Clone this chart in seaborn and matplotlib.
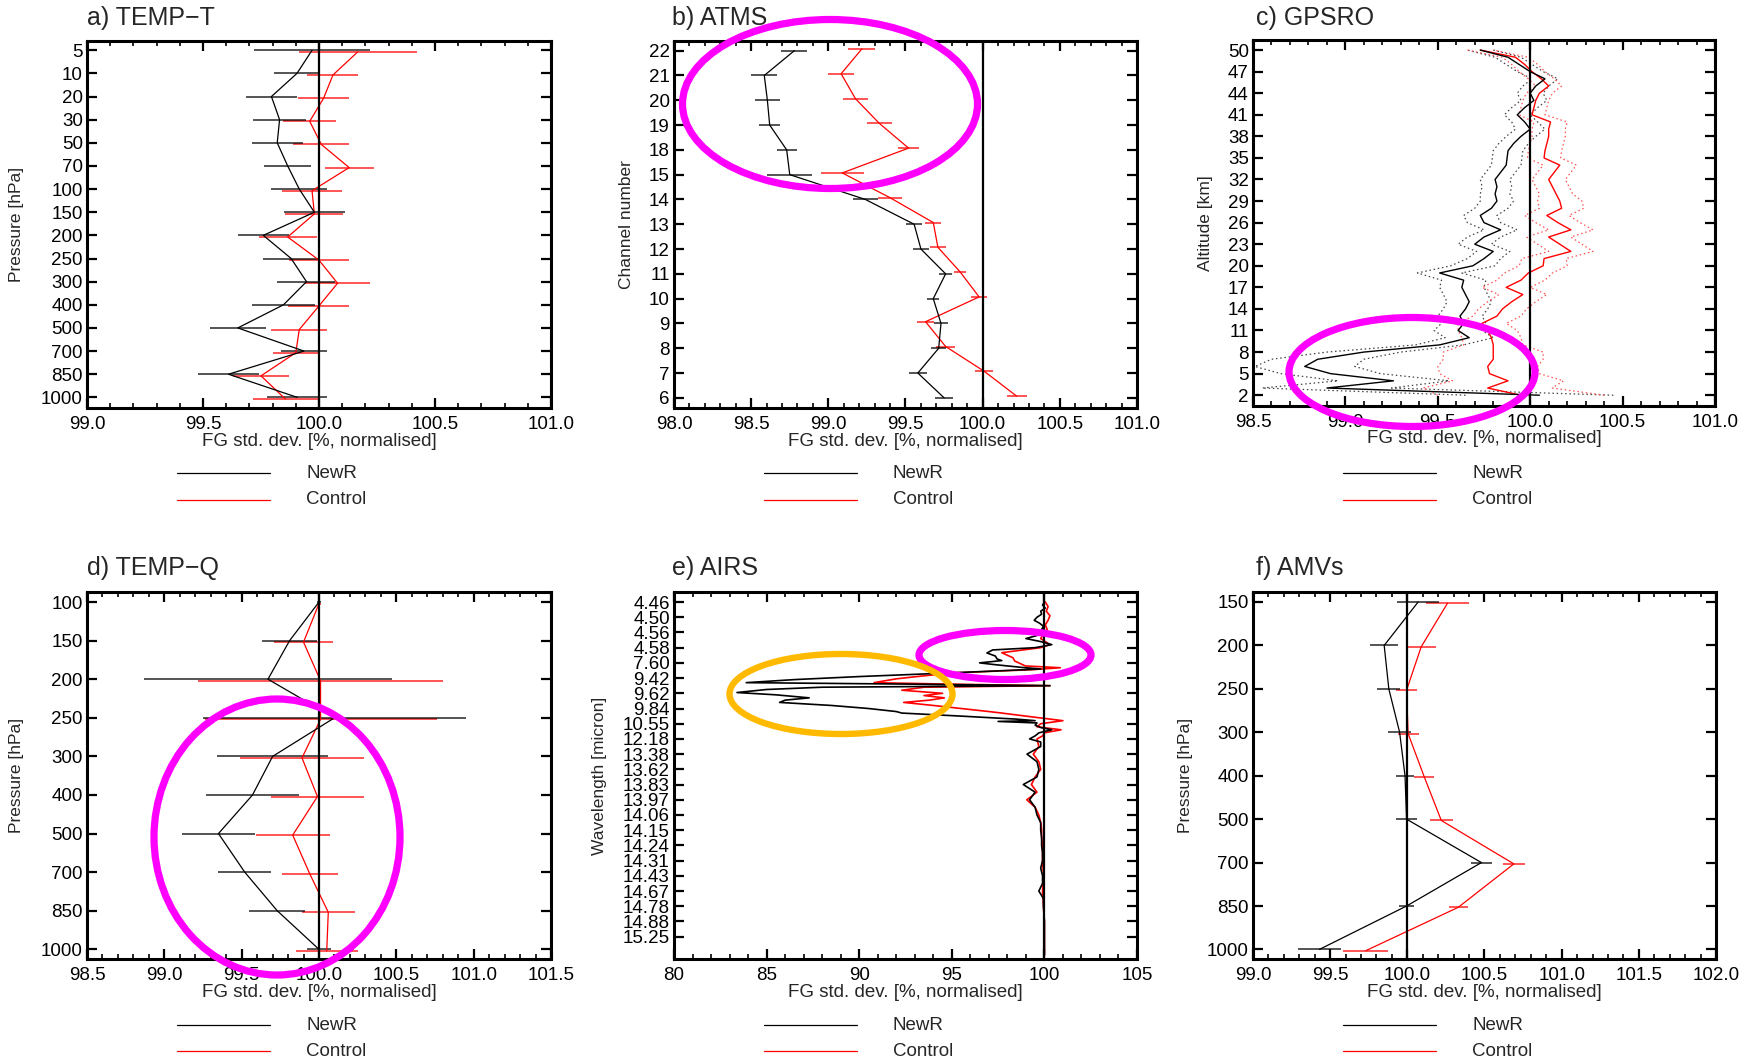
import numpy as np
import pandas as pd
import matplotlib
matplotlib.use("Agg")
import matplotlib.pyplot as plt
import seaborn as sns
from matplotlib.ticker import MultipleLocator, NullLocator, FormatStrFormatter
from matplotlib.patches import Ellipse
from matplotlib.lines import Line2D

# ---------------- data ----------------
# a) TEMP-T
a_levels = ["5", "10", "20", "30", "50", "70", "100", "150", "200", "250", "300", "400", "500", "700", "850", "1000"]
a_newr = [99.97, 99.905, 99.795, 99.83, 99.82, 99.865, 99.915, 99.98, 99.76, 99.88, 99.946, 99.847, 99.65, 99.935, 99.61, 99.906]
a_newr_err = [0.25, 0.10, 0.11, 0.115, 0.11, 0.10, 0.12, 0.13, 0.11, 0.12, 0.125, 0.135, 0.12, 0.10, 0.13, 0.13]
a_ctrl = [100.167, 100.06, 100.02, 99.96, 100.01, 100.13, 99.97, 99.98, 99.865, 100.0, 100.08, 99.998, 99.915, 99.90, 99.75, 99.855]
a_ctrl_err = [0.255, 0.11, 0.11, 0.115, 0.12, 0.105, 0.13, 0.125, 0.125, 0.13, 0.14, 0.13, 0.12, 0.10, 0.12, 0.14]

# b) ATMS
b_channels = ["22", "21", "20", "19", "18", "15", "14", "13", "12", "11", "10", "9", "8", "7", "6"]
b_newr = [98.78, 98.585, 98.605, 98.62, 98.73, 98.75, 99.24, 99.556, 99.60, 99.76, 99.68, 99.73, 99.715, 99.58, 99.75]
b_newr_err = [0.085, 0.083, 0.08, 0.07, 0.065, 0.147, 0.08, 0.05, 0.05, 0.04, 0.04, 0.045, 0.05, 0.06, 0.06]
b_ctrl = [99.217, 99.083, 99.175, 99.33, 99.52, 99.09, 99.40, 99.68, 99.71, 99.855, 99.977, 99.63, 99.76, 100.01, 100.22]
b_ctrl_err = [0.088, 0.085, 0.08, 0.08, 0.07, 0.14, 0.08, 0.052, 0.05, 0.04, 0.053, 0.054, 0.06, 0.06, 0.065]

# c) GPSRO (altitude 2..50 km)
c_alt = [2, 3, 4, 5, 6, 7, 8, 9, 10, 11, 12, 13, 14, 15, 16, 17, 18, 19, 20, 21, 22, 23, 24, 25, 26,
         27, 28, 29, 30, 31, 32, 33, 34, 35, 36, 37, 38, 39, 40, 41, 42, 43, 44, 45, 46, 47, 48, 49, 50]
c_newr = [100.05, 98.90, 99.26, 98.92, 98.78, 98.85, 99.10, 99.51, 99.67, 99.61, 99.64, 99.62, 99.65, 99.67,
          99.65, 99.63, 99.64, 99.51, 99.69, 99.75, 99.80, 99.70, 99.75, 99.84, 99.75, 99.73, 99.79, 99.82,
          99.81, 99.82, 99.81, 99.84, 99.87, 99.875, 99.88, 99.91, 99.95, 100.0, 99.97, 99.93, 99.97, 100.02,
          100.0, 100.03, 100.08, 100.0, 99.94, 99.88, 99.73]
c_newr_err = [0.40, 0.35, 0.30, 0.27, 0.27, 0.25, 0.20, 0.13, 0.13, 0.13, 0.12, 0.12, 0.12, 0.12, 0.12, 0.12,
              0.12, 0.12, 0.12, 0.09, 0.09, 0.09, 0.09, 0.09, 0.09, 0.09, 0.09, 0.09, 0.08, 0.08, 0.08, 0.08,
              0.08, 0.08, 0.08, 0.08, 0.08, 0.08, 0.07, 0.07, 0.07, 0.07, 0.07, 0.07, 0.07, 0.07, 0.07, 0.07, 0.07]
c_ctrl = [99.95, 99.77, 99.88, 99.78, 99.77, 99.80, 99.80, 99.80, 99.79, 99.77, 99.74, 99.82, 99.85, 99.90,
          99.96, 99.87, 99.95, 99.99, 100.07, 100.075, 100.22, 100.16, 100.10, 100.22, 100.15, 100.09, 100.17,
          100.16, 100.14, 100.12, 100.10, 100.13, 100.16, 100.075, 100.08, 100.09, 100.10, 100.10, 100.11,
          100.01, 100.02, 100.03, 100.05, 100.10, 100.06, 100.01, 99.97, 99.92, 99.73]
c_ctrl_err = [0.45, 0.35, 0.30, 0.27, 0.27, 0.27, 0.27, 0.16, 0.16, 0.16, 0.13, 0.13, 0.13, 0.13, 0.13, 0.13,
              0.13, 0.13, 0.13, 0.12, 0.12, 0.12, 0.12, 0.12, 0.12, 0.12, 0.12, 0.12, 0.09, 0.09, 0.09, 0.09,
              0.09, 0.09, 0.09, 0.09, 0.09, 0.09, 0.09, 0.07, 0.07, 0.07, 0.07, 0.07, 0.07, 0.07, 0.07, 0.07, 0.07]
c_ticks = [2, 5, 8, 11, 14, 17, 20, 23, 26, 29, 32, 35, 38, 41, 44, 47, 50]

# d) TEMP-Q
d_levels = ["100", "150", "200", "250", "300", "400", "500", "700", "850", "1000"]
d_newr = [100.0, 99.81, 99.67, 100.10, 99.70, 99.57, 99.35, 99.52, 99.73, 100.0]
d_newr_err = [0.01, 0.177, 0.80, 0.85, 0.36, 0.30, 0.235, 0.17, 0.18, 0.08]
d_ctrl = [100.0, 99.90, 100.01, 100.01, 99.89, 99.99, 99.83, 99.94, 100.06, 100.05]
d_ctrl_err = [0.01, 0.19, 0.79, 0.75, 0.40, 0.30, 0.24, 0.18, 0.17, 0.20]

# e) AIRS (positions in units of the labelled wavelength ticks)
e_labels = ["4.46", "4.50", "4.56", "4.58", "7.60", "9.42", "9.62", "9.84", "10.55", "12.18", "13.38", "13.62",
            "13.83", "13.97", "14.06", "14.15", "14.24", "14.31", "14.43", "14.67", "14.78", "14.88", "15.25"]
e_newr_pos = [0.0, 0.2, 0.4, 0.6, 0.8, 1.0, 1.2, 1.4, 1.6, 1.8, 2.0, 2.2, 2.4, 2.6, 2.8,
              3.0, 3.15, 3.35, 3.55, 3.75, 3.85, 4.0, 4.1, 4.3, 4.4, 4.5, 4.7, 4.9,
              5.1, 5.3, 5.4, 5.5, 5.6, 5.75, 5.95, 6.1, 6.3, 6.45, 6.6, 6.8,
              7.0, 7.2, 7.3, 7.5, 7.7, 7.8, 7.85, 7.95, 8.1, 8.25, 8.4, 8.6, 8.8, 9.0, 9.2, 9.5,
              10.0, 10.5, 11.0, 11.5, 12.0, 12.5, 13.0, 13.5, 14.0, 14.5, 15.0, 15.5, 16.0, 16.5,
              17.0, 17.5, 18.0, 18.5, 19.0, 19.5, 20.0, 21.0, 22.0, 23.2]
e_newr = [100.0, 99.9, 100.05, 99.8, 99.85, 99.6, 99.45, 99.75, 99.95, 99.85, 99.9, 99.6, 99.0, 99.8, 100.4,
          99.5, 97.2, 96.9, 97.35, 97.45, 97.7, 96.5, 97.2, 98.8, 99.8, 98.0, 94.1, 90.0,
          86.5, 83.9, 93.0, 100.3, 88.0, 85.0, 83.4, 85.5, 87.3, 86.0, 85.7, 88.5,
          90.5, 92.0, 92.3, 95.5, 98.5, 99.5, 97.5, 99.6, 99.5, 99.8, 100.4, 99.7, 99.5, 99.2, 99.8, 99.8,
          99.06, 99.6, 99.7, 99.6, 98.86, 99.5, 99.2, 99.5, 99.6, 99.8, 99.8, 99.85, 99.85, 99.9,
          99.9, 99.8, 99.9, 99.9, 99.7, 99.95, 99.95, 100.0, 100.0, 100.0]
e_ctrl_pos = [0.0, 0.3, 0.6, 0.9, 1.2, 1.5, 1.8, 2.0, 2.4, 2.8,
              3.0, 3.33, 3.5, 3.66, 3.88, 4.2, 4.32, 4.45, 4.65, 4.85,
              5.05, 5.3, 5.4, 5.5, 5.6, 5.8, 6.0, 6.15, 6.3, 6.45, 6.6, 6.8,
              7.0, 7.2, 7.3, 7.5, 7.8, 8.0, 8.2, 8.4, 8.6, 8.8, 9.0, 9.5,
              10.0, 10.5, 11.0, 11.5, 12.0, 12.5, 13.0, 13.5, 14.0, 14.5, 15.0, 15.5, 16.0,
              17.0, 18.0, 19.0, 20.0, 21.0, 22.0, 23.2]
e_ctrl = [100.05, 100.2, 100.1, 100.3, 100.2, 100.05, 100.15, 100.0, 99.8, 100.3,
          99.8, 97.7, 98.0, 98.3, 98.4, 98.97, 100.86, 99.3, 95.2, 93.5,
          92.0, 90.8, 95.0, 100.3, 93.5, 92.3, 94.5, 93.5, 94.6, 93.8, 92.4, 94.0,
          95.5, 97.0, 97.7, 99.0, 101.0, 99.8, 99.6, 100.9, 100.0, 99.9, 99.6, 99.7,
          99.4, 99.7, 99.8, 99.5, 99.3, 99.6, 99.05, 99.5, 99.7, 99.8, 99.85, 99.85, 99.9,
          99.9, 99.95, 99.9, 99.95, 100.0, 100.0, 100.0]

# f) AMVs
f_levels = ["150", "200", "250", "300", "400", "500", "700", "850", "1000"]
f_newr = [100.07, 99.85, 99.88, 99.95, 99.985, 99.995, 100.48, 99.995, 99.43]
f_newr_err = [0.135, 0.09, 0.075, 0.075, 0.06, 0.07, 0.07, 0.05, 0.14]
f_ctrl = [100.26, 100.09, 99.995, 100.005, 100.11, 100.22, 100.69, 100.33, 99.73]
f_ctrl_err = [0.137, 0.093, 0.07, 0.068, 0.064, 0.074, 0.071, 0.06, 0.145]

XLABEL = "FG std. dev. [%, normalised]"

# ---------------- figure ----------------
sns.set_style("ticks")
plt.rcParams['font.family'] = ['Liberation Sans', 'DejaVu Sans']
plt.rcParams['axes.unicode_minus'] = True

W, H = 1754, 1060
fig = plt.figure(figsize=(W / 100, H / 100), dpi=100)
PAL = {'NewR': 'black', 'Control': 'red'}


def rect(l, r, t, b):
    return [l / W, 1 - b / H, (r - l) / W, (b - t) / H]


def style(ax, xlim, major, minor, fmt, ylab, ylab_x):
    ax.set_xlim(*xlim)
    ax.xaxis.set_major_locator(MultipleLocator(major))
    ax.xaxis.set_minor_locator(MultipleLocator(minor))
    ax.xaxis.set_major_formatter(FormatStrFormatter(fmt))
    ax.yaxis.set_minor_locator(NullLocator())
    ax.tick_params(which='both', direction='in', top=True, right=True, labelsize=13.5, colors='black')
    ax.tick_params(which='major', length=7, width=1.6)
    ax.tick_params(which='minor', length=3.5, width=1.2)
    ax.tick_params(axis='y', pad=3)
    ax.tick_params(axis='x', pad=6)
    for s in ax.spines.values():
        s.set_linewidth(2.2)
        s.set_color('black')
    ax.axvline(100, color='black', lw=1.6, zorder=6)
    ax.set_xlabel(XLABEL, fontsize=13.5)
    ax.xaxis.set_label_coords(0.5, -0.09)
    ax.xaxis.label.set_va('center')
    ax.set_ylabel(ylab, fontsize=12.5)
    ax.yaxis.set_label_coords(ylab_x, 0.5)
    ax.yaxis.label.set_va('center')
    ax.yaxis.label.set_ha('center')
    ax.set_facecolor('white')


def profile(ax, y_n, v_n, y_c, v_c, lw=0.9):
    df = pd.DataFrame({'pos': list(y_c) + list(y_n),
                       'value': list(v_c) + list(v_n),
                       'run': ['Control'] * len(y_c) + ['NewR'] * len(y_n)})
    sns.lineplot(data=df, x='value', y='pos', hue='run', hue_order=['Control', 'NewR'], palette=PAL,
                 sort=False, orient='y', estimator=None, legend=False, lw=lw, ax=ax, zorder=4)


def bars(ax, y, v, e, col):
    ax.errorbar(v, y, xerr=e, fmt='none', ecolor=col, elinewidth=1.1, capsize=0, alpha=0.85, zorder=3)


def title(ax_left, base_y, text):
    fig.text(ax_left / W, 1 - base_y / H, text, fontsize=18, va='baseline', ha='left')


def legend(ax_left, y1, y2):
    for ypx, col, lab in [(y1, 'black', 'NewR'), (y2, 'red', 'Control')]:
        fig.add_artist(Line2D([(ax_left + 90) / W, (ax_left + 183) / W], [1 - ypx / H] * 2, color=col, lw=0.9))
        fig.text((ax_left + 219) / W, 1 - ypx / H, lab, fontsize=13.5, va='center', ha='left')


# a) TEMP-T
ax = fig.add_axes(rect(87, 551, 41, 408))
ya = np.arange(len(a_levels), dtype=float)
off = 0.07
bars(ax, ya + off, a_ctrl, a_ctrl_err, 'red')
bars(ax, ya, a_newr, a_newr_err, 'black')
profile(ax, ya, a_newr, ya + off, a_ctrl)
ax.set_yticks(ya)
ax.set_yticklabels(a_levels)
ax.set_ylim(15.46, -0.40)
style(ax, (99.0, 101.0), 0.5, 0.1, '%.1f', 'Pressure [hPa]', -0.151)
title(87, 25, "a) TEMP\u2212T")
legend(87, 473, 500)

# b) ATMS
ax = fig.add_axes(rect(674, 1137, 41, 408))
yb = np.arange(len(b_channels), dtype=float)
off = -0.07
bars(ax, yb + off, b_ctrl, b_ctrl_err, 'red')
bars(ax, yb, b_newr, b_newr_err, 'black')
profile(ax, yb, b_newr, yb + off, b_ctrl)
ax.set_yticks(yb)
ax.set_yticklabels(b_channels)
ax.set_ylim(14.41, -0.39)
style(ax, (98.0, 101.0), 0.5, 0.1, '%.1f', 'Channel number', -0.103)
title(672, 25, "b) ATMS")
legend(674, 473, 500)

# c) GPSRO
ax = fig.add_axes(rect(1253, 1715, 40, 406))
alt = np.array(c_alt, dtype=float)
for vals, errs, col in [(c_newr, c_newr_err, '#444444'), (c_ctrl, c_ctrl_err, '#ff5050')]:
    v = np.array(vals)
    e = np.array(errs)
    for sign in (-1, 1):
        sns.lineplot(x=v + sign * e, y=alt, sort=False, orient='y', estimator=None, color=col,
                     lw=0.9, linestyle=(0, (1.2, 2.2)), ax=ax, zorder=3)
profile(ax, alt, c_newr, alt, c_ctrl, lw=1.0)
ax.set_yticks(c_ticks)
ax.set_yticklabels([str(t) for t in c_ticks])
ax.set_ylim(0.5, 51.4)
style(ax, (98.5, 101.0), 0.5, 0.1, '%.1f', 'Altitude [km]', -0.102)
title(1256, 25, "c) GPSRO")
legend(1253, 473, 500)

# d) TEMP-Q
ax = fig.add_axes(rect(87, 551, 592, 959))
yd = np.arange(len(d_levels), dtype=float)
off = 0.04
bars(ax, yd + off, d_ctrl, d_ctrl_err, 'red')
bars(ax, yd, d_newr, d_newr_err, 'black')
profile(ax, yd, d_newr, yd + off, d_ctrl)
ax.set_yticks(yd)
ax.set_yticklabels(d_levels)
ax.set_ylim(9.25, -0.26)
style(ax, (98.5, 101.5), 0.5, 0.1, '%.1f', 'Pressure [hPa]', -0.151)
title(87, 575, "d) TEMP\u2212Q")
legend(87, 1025, 1051)

# e) AIRS
ax = fig.add_axes(rect(674, 1137, 592, 959))
profile(ax, e_newr_pos, e_newr, e_ctrl_pos, e_ctrl, lw=1.2)
ye = np.arange(len(e_labels), dtype=float)
ax.set_yticks(ye)
ax.set_yticklabels(e_labels)
ax.set_ylim(23.47, -0.66)
style(ax, (80, 105), 5, 1, '%d', 'Wavelength [micron]', -0.161)
title(672, 575, "e) AIRS")
legend(674, 1025, 1051)

# f) AMVs
ax = fig.add_axes(rect(1253, 1716, 592, 959))
yf = np.arange(len(f_levels), dtype=float)
off = 0.03
bars(ax, yf + off, f_ctrl, f_ctrl_err, 'red')
bars(ax, yf, f_newr, f_newr_err, 'black')
profile(ax, yf, f_newr, yf + off, f_ctrl)
ax.set_yticks(yf)
ax.set_yticklabels(f_levels)
ax.set_ylim(8.22, -0.23)
style(ax, (99.0, 102.0), 0.5, 0.1, '%.1f', 'Pressure [hPa]', -0.146)
title(1256, 575, "f) AMVs")
legend(1253, 1025, 1051)

# highlight ellipses (annotation overlay in pixel space)
ov = fig.add_axes([0, 0, 1, 1], zorder=20)
ov.set_xlim(0, W)
ov.set_ylim(H, 0)
ov.axis('off')
ov.patch.set_alpha(0)
for (cx, cy, w, h, col, lw) in [(830, 104, 295, 169, '#ff00ff', 5.2),
                                (1412, 372, 246, 109, '#ff00ff', 5.2),
                                (277, 837, 246, 276, '#ff00ff', 5.2),
                                (1005, 655, 172, 49, '#ff00ff', 5.2),
                                (841, 694, 223, 80, '#ffba00', 4.6)]:
    ov.add_patch(Ellipse((cx, cy), w, h, fill=False, edgecolor=col, lw=lw))

fig.savefig("out.png", dpi=100, facecolor='white')
